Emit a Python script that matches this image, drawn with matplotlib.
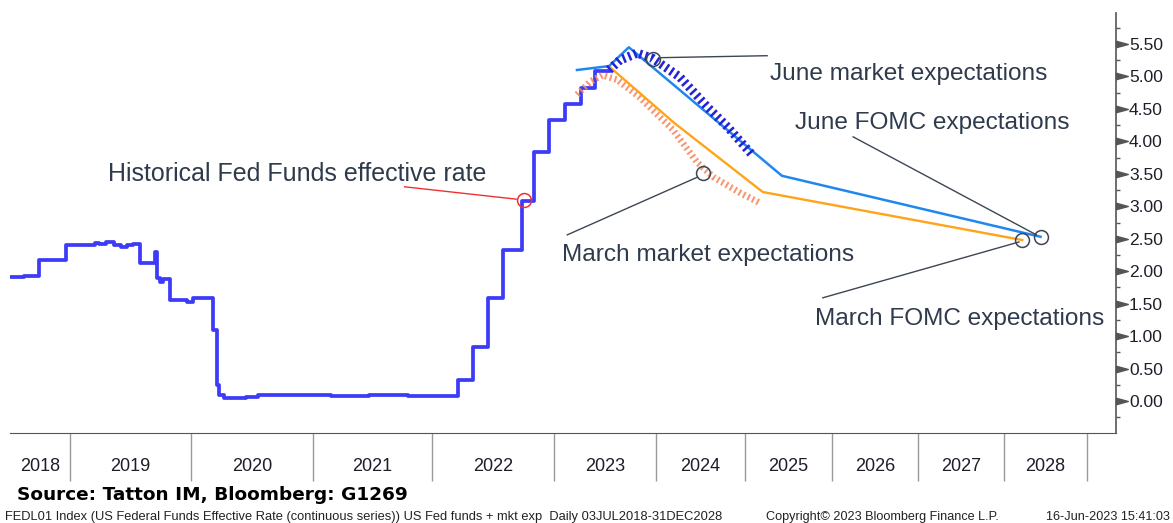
import numpy as np
import matplotlib
matplotlib.use('Agg')
import matplotlib.pyplot as plt
from matplotlib.path import Path
from matplotlib.ticker import FixedLocator, FixedFormatter, MultipleLocator
import matplotlib.transforms as mtransforms

plt.rcParams['font.family'] = ['Liberation Sans', 'DejaVu Sans']

# ---- data (dates as fractional years) ----
# effective fed funds rate, value from each date on
ff_dates = [2018.50, 2018.62, 2018.74, 2018.97, 2019.15, 2019.21, 2019.24, 2019.30, 2019.36,
            2019.42, 2019.47, 2019.52, 2019.58, 2019.705, 2019.715, 2019.74, 2019.77,
            2019.83, 2019.97, 2020.02, 2020.18, 2020.21, 2020.23, 2020.27, 2020.45,
            2020.55, 2020.90, 2021.15, 2021.30, 2021.47, 2021.55, 2021.80, 2022.00,
            2022.21, 2022.34, 2022.46, 2022.58, 2022.74, 2022.84, 2022.96, 2023.09,
            2023.22, 2023.34, 2023.455]
ff_vals = [1.91, 1.92, 2.18, 2.40, 2.40, 2.44, 2.42, 2.45, 2.40,
           2.38, 2.40, 2.42, 2.13, 2.30, 1.90, 1.83, 1.88,
           1.55, 1.53, 1.58, 1.09, 0.25, 0.10, 0.05, 0.06,
           0.09, 0.09, 0.07, 0.07, 0.10, 0.09, 0.08, 0.08,
           0.33, 0.83, 1.58, 2.33, 3.08, 3.83, 4.33, 4.58,
           4.83, 5.08, 5.08]

june_fomc_dates = [2023.19, 2023.455, 2023.685, 2025.43, 2028.44]
june_fomc_vals = [5.10, 5.16, 5.45, 3.47, 2.53]

march_fomc_dates = [2023.46, 2024.21, 2025.21, 2028.22]
march_fomc_vals = [5.15, 4.28, 3.22, 2.48]

june_mkt_dates = [2023.455, 2023.58, 2023.78, 2023.96, 2024.27, 2024.58, 2024.81, 2025.09]
june_mkt_vals = [5.10, 5.25, 5.36, 5.28, 4.99, 4.53, 4.22, 3.79]

march_mkt_dates = [2023.19, 2023.30, 2023.40, 2023.55, 2023.81, 2024.19, 2024.47, 2024.65,
                   2024.96, 2025.18]
march_mkt_vals = [4.72, 4.92, 5.02, 4.95, 4.68, 4.18, 3.67, 3.45, 3.20, 3.05]

year_labels = [str(y) for y in range(2018, 2029)]
year_bounds = [2018.5] + list(range(2019, 2030))
yticks = np.arange(0, 5.51, 0.5)

# bloomberg squeezes the forecast part of the axis (calendar vs trading days)
yr_knots = [2017.5, 2018.5, 2019, 2020, 2021, 2022, 2023, 2023.455, 2024, 2025, 2026,
            2027, 2028, 2029, 2030]
px_knots = [-110, 10, 70, 191, 313, 432, 554, 609, 656, 744.5, 831.5, 918, 1004, 1087, 1174]


def fwd(x):
    return np.interp(x, yr_knots, px_knots)


def inv(p):
    return np.interp(p, px_knots, yr_knots)


fig = plt.figure(figsize=(11.73, 5.23), dpi=100)
ax = fig.add_axes([10 / 1173, 90 / 523, 1106 / 1173, 420 / 523])
ax.set_xscale('function', functions=(fwd, inv))
ax.set_xlim(2018.5, float(inv(1116)))
ax.set_ylim(-0.493, 5.978)

# lines
ax.plot(ff_dates, ff_vals, drawstyle='steps-post', color='#3C3CF8', lw=2.7, zorder=3)
ax.plot(march_mkt_dates, march_mkt_vals, color='#F98A5E', lw=4.8, alpha=0.9,
        ls=(0, (0.3, 0.45)), zorder=3)
ax.plot(march_fomc_dates, march_fomc_vals, color='#FFA31A', lw=1.7, zorder=4)
ax.plot(june_fomc_dates, june_fomc_vals, color='#1E88F0', lw=1.8, zorder=4)
ax.plot(june_mkt_dates, june_mkt_vals, color='#2424D4', lw=6.5,
        ls=(0, (0.28, 0.38)), zorder=5)

# annotations
txt_col = '#2F3B4C'
line_col = '#3D4654'
ax.text(2019.31, 3.39, 'Historical Fed Funds effective rate', fontsize=18, color=txt_col)
ax.plot([2021.77, 2022.69], [3.30, 3.11], color='#F03030', lw=1)
ax.plot([2022.75], [3.10], marker='o', ms=10, mfc='none', mec='#F03030', mew=1.1, zorder=6)

notes = [
    ('June market expectations', 2025.29, 4.95, [2024.06, 2025.26], [5.29, 5.32], 2023.96, 5.27),
    ('June FOMC expectations', 2025.58, 4.19, [2026.25, 2028.39], [4.07, 2.56], 2028.44, 2.53),
    ('March market expectations', 2023.066, 2.16, [2023.11, 2024.47], [2.56, 3.45], 2024.535, 3.51),
    ('March FOMC expectations', 2025.81, 1.17, [2025.90, 2028.18], [1.59, 2.45], 2028.22, 2.48),
]
for label, tx, ty, lx, ly, cx, cy in notes:
    ax.text(tx, ty, label, fontsize=17.6, color=txt_col)
    ax.plot(lx, ly, color=line_col, lw=1, zorder=6)
    ax.plot([cx], [cy], marker='o', ms=10, mfc='none', mec=line_col, mew=1.1, zorder=7)

# spines
for s in ['top', 'left']:
    ax.spines[s].set_visible(False)
ax.spines['bottom'].set_color('#555555')
ax.spines['right'].set_color('#555555')
ax.spines['right'].set_linewidth(1.2)

# y axis on the right with triangle ticks
ax.yaxis.tick_right()
ax.set_yticks(yticks)
ax.set_yticklabels(['%.2f' % v for v in yticks])
ax.yaxis.set_minor_locator(MultipleLocator(0.25))
ax.tick_params(axis='y', which='major', length=0, pad=9.4, labelsize=12.5, labelcolor='#1E1E2A')
ax.tick_params(axis='y', which='minor', length=3, width=1, color='#555555', direction='out')
tri = Path([(0, -0.27), (1, 0), (0, 0.27), (0, -0.27)],
           [Path.MOVETO, Path.LINETO, Path.LINETO, Path.CLOSEPOLY])
trans = mtransforms.blended_transform_factory(ax.transAxes, ax.transData)
ax.plot(np.ones(len(yticks)), yticks, ls='none', marker=tri, ms=17, color='#555555',
        transform=trans, clip_on=False)

# x axis: year separators + centred year labels
centers = [float(inv((fwd(a) + fwd(b)) / 2)) for a, b in zip(year_bounds[:-1], year_bounds[1:])]
ax.xaxis.set_major_locator(FixedLocator(year_bounds[1:]))
ax.xaxis.set_major_formatter(FixedFormatter([''] * len(year_bounds[1:])))
ax.xaxis.set_minor_locator(FixedLocator(centers))
ax.xaxis.set_minor_formatter(FixedFormatter(year_labels))
ax.tick_params(axis='x', which='major', length=34.5, width=1, color='#999999', direction='out')
ax.tick_params(axis='x', which='minor', length=0, pad=18, labelsize=13, labelcolor='#1E1E2A')

# footer
fig.text(17 / 1173, 1 - 500 / 523, 'Source: Tatton IM, Bloomberg: G1269',
         fontfamily='DejaVu Sans', fontweight='bold', fontsize=13.3, color='black')
foot = 1 - 520 / 523
fig.text(5 / 1173, foot, 'FEDL01 Index (US Federal Funds Effective Rate (continuous series)) '
         'US Fed funds + mkt exp  Daily 03JUL2018-31DEC2028', fontsize=9.25, color='#222222')
fig.text(766 / 1173, foot, 'Copyright\u00a9 2023 Bloomberg Finance L.P.', fontsize=9.1, color='#222222')
fig.text(1170 / 1173, foot, '16-Jun-2023 15:41:03', fontsize=9.1, color='#222222', ha='right')

fig.savefig('out.png', dpi=100)
